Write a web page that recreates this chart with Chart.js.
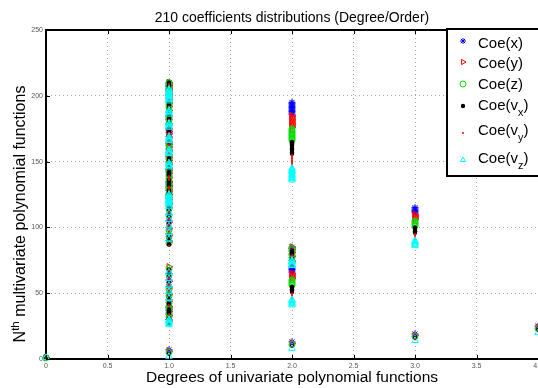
<!DOCTYPE html>
<html>
<head>
<meta charset="utf-8">
<script src="https://cdn.jsdelivr.net/npm/chart.js@4.4.1/dist/chart.umd.min.js"></script>
<style>
  html, body { margin: 0; padding: 0; background: #fff; }
  #wrap { width: 538px; height: 388px; overflow: hidden; position: relative; }
  #chart { display: block; }
</style>
</head>
<body>
<div id="wrap"><canvas id="chart" width="560" height="388"></canvas></div>
<script>
const FONT = '"Liberation Sans", Arial, Helvetica, sans-serif';

// Axis ticks
const xTicks = [0, 0.5, 1, 1.5, 2, 2.5, 3, 3.5, 4];
const yTicks = [0, 50, 100, 150, 200, 250];

// Legend labels ("_" marks a subscript letter)
const seriesNames = ['Coe(x)', 'Coe(y)', 'Coe(z)', 'Coe(v_x)', 'Coe(v_y)', 'Coe(v_z)'];

// For each coefficient: the N values found at degree 0, 1, 2, 3, 4 (array index = degree)
const coeX = [
  [1],
  [7, 30, 34, 37, 39, 40, 45, 50, 55, 60, 65, 90, 95, 100, 105, 110, 119, 122, 124, 125, 128, 130, 131, 133, 134, 135,
   139, 142, 144, 145, 149, 152, 154, 155, 159, 162, 164, 165, 169, 172, 174, 175, 179, 182, 184, 185,
   198, 200, 201, 203, 204, 205, 207, 208, 209, 210],
  [13, 66, 67, 68, 69, 70, 75, 79, 82, 84, 85, 186, 187, 188, 189, 190, 191, 192, 193, 194, 195],
  [19, 111, 112, 113, 114, 115],
  [25]
];
const coeY = [
  [1],
  [6, 29, 33, 36, 38, 40, 44, 49, 54, 59, 70, 89, 94, 99, 104, 115, 118, 121, 123, 125, 127, 129, 131, 132, 134, 135,
   138, 141, 143, 145, 148, 151, 153, 155, 158, 161, 163, 165, 168, 171, 173, 175, 189, 192, 194, 195,
   197, 199, 201, 202, 204, 205, 206, 208, 209, 210],
  [12, 61, 62, 63, 64, 65, 74, 78, 81, 83, 85, 176, 177, 178, 179, 180, 181, 182, 183, 184, 185],
  [18, 106, 107, 108, 109, 110],
  [24]
];
const coeZ = [
  [1],
  [5, 28, 32, 35, 38, 39, 43, 48, 53, 64, 69, 88, 93, 98, 109, 114, 117, 120, 123, 124, 126, 129, 130, 132, 133, 135,
   137, 140, 143, 144, 147, 150, 153, 154, 157, 160, 163, 164, 178, 181, 183, 185, 188, 191, 193, 195,
   196, 199, 200, 202, 203, 205, 206, 207, 209, 210],
  [11, 56, 57, 58, 59, 60, 73, 77, 80, 83, 84, 166, 167, 168, 169, 170, 171, 172, 173, 174, 175],
  [17, 101, 102, 103, 104, 105],
  [23]
];
const coeVx = [
  [1],
  [4, 27, 31, 35, 36, 37, 42, 47, 58, 63, 68, 87, 92, 103, 108, 113, 116, 120, 121, 122, 126, 127, 128, 132, 133, 134,
   136, 140, 141, 142, 146, 150, 151, 152, 167, 170, 173, 174, 177, 180, 183, 184, 187, 190, 193, 194,
   196, 197, 198, 202, 203, 204, 206, 207, 208, 210],
  [10, 51, 52, 53, 54, 55, 72, 76, 80, 81, 82, 156, 157, 158, 159, 160, 161, 162, 163, 164, 165],
  [16, 96, 97, 98, 99, 100],
  [22]
];
const coeVy = [
  [1],
  [3, 26, 31, 32, 33, 34, 41, 52, 57, 62, 67, 86, 97, 102, 107, 112, 116, 117, 118, 119, 126, 127, 128, 129, 130, 131,
   136, 137, 138, 139, 156, 160, 161, 162, 166, 170, 171, 172, 176, 180, 181, 182, 186, 190, 191, 192,
   196, 197, 198, 199, 200, 201, 206, 207, 208, 209],
  [9, 46, 47, 48, 49, 50, 71, 76, 77, 78, 79, 146, 147, 148, 149, 150, 151, 152, 153, 154, 155],
  [15, 91, 92, 93, 94, 95],
  [21]
];
const coeVz = [
  [1],
  [2, 26, 27, 28, 29, 30, 46, 51, 56, 61, 66, 91, 96, 101, 106, 111, 116, 117, 118, 119, 120, 121, 122, 123, 124, 125,
   146, 147, 148, 149, 156, 157, 158, 159, 166, 167, 168, 169, 176, 177, 178, 179, 186, 187, 188, 189,
   196, 197, 198, 199, 200, 201, 202, 203, 204, 205],
  [8, 41, 42, 43, 44, 45, 71, 72, 73, 74, 75, 136, 137, 138, 139, 140, 141, 142, 143, 144, 145],
  [14, 86, 87, 88, 89, 90],
  [20]
];

const toPoints = byDegree => byDegree.flatMap((ns, deg) => ns.map(n => ({ x: deg, y: n })));

// marker look per series (matlab style: *, >, o, ., ., ^)
const styles = [
  { pointStyle: 'star', radius: 3.5, rotation: 0, border: '#0000ff', fill: '#0000ff', bw: 1 },
  { pointStyle: 'triangle', radius: 3.8, rotation: 90, border: '#ff0000', fill: 'rgba(0,0,0,0)', bw: 1 },
  { pointStyle: 'circle', radius: 3, rotation: 0, border: '#00dd00', fill: 'rgba(0,0,0,0)', bw: 1 },
  { pointStyle: 'circle', radius: 2.2, rotation: 0, border: '#000000', fill: '#000000', bw: 0 },
  { pointStyle: 'circle', radius: 1, rotation: 0, border: '#ff0000', fill: '#ff0000', bw: 0 },
  { pointStyle: 'triangle', radius: 3.8, rotation: 0, border: '#00ffff', fill: 'rgba(0,0,0,0)', bw: 1 }
];
const allSeries = [coeX, coeY, coeZ, coeVx, coeVy, coeVz];

const datasets = allSeries.map((s, i) => ({
  label: seriesNames[i],
  data: toPoints(s),
  pointStyle: styles[i].pointStyle,
  pointRadius: styles[i].radius,
  pointRotation: styles[i].rotation,
  pointBorderColor: styles[i].border,
  pointBackgroundColor: styles[i].fill,
  pointBorderWidth: styles[i].bw,
  pointHoverRadius: styles[i].radius,
  showLine: false,
  clip: false,
  order: allSeries.length - i   // later series on top, like matlab
}));

// draw text pieces, some shifted (sub/superscript)
function drawRich(ctx, parts, x, y, size) {
  let cx = x;
  parts.forEach(p => {
    const sz = p.shift ? size * 0.72 : size;
    ctx.font = sz + 'px ' + FONT;
    ctx.fillText(p.t, cx, y + (p.shift || 0));
    cx += ctx.measureText(p.t).width;
  });
  return cx - x;
}
function splitSub(label) {
  const parts = [];
  for (let i = 0; i < label.length; i++) {
    if (label[i] === '_') { parts.push({ t: label[i + 1], shift: 6 }); i++; }
    else if (parts.length && !parts[parts.length - 1].shift) parts[parts.length - 1].t += label[i];
    else parts.push({ t: label[i] });
  }
  return parts;
}

const decorations = {
  id: 'decorations',
  afterDraw(chart) {
    const ctx = chart.ctx, a = chart.chartArea;
    const xs = chart.scales.x, ys = chart.scales.y;
    ctx.save();

    // top box line and inward tick marks
    ctx.strokeStyle = '#000';
    ctx.lineWidth = 2;
    ctx.beginPath(); ctx.moveTo(a.left - 1, a.top); ctx.lineTo(a.right + 2, a.top); ctx.stroke();
    ctx.lineWidth = 1;
    ctx.beginPath();
    xTicks.forEach(v => {
      const px = Math.round(xs.getPixelForValue(v)) + 0.5;
      ctx.moveTo(px, a.bottom); ctx.lineTo(px, a.bottom - 4);
      ctx.moveTo(px, a.top); ctx.lineTo(px, a.top + 4);
    });
    yTicks.forEach(v => {
      const py = Math.round(ys.getPixelForValue(v)) + 0.5;
      ctx.moveTo(a.left, py); ctx.lineTo(a.left + 4, py);
    });
    ctx.stroke();

    // title
    ctx.fillStyle = '#000';
    ctx.textBaseline = 'alphabetic';
    ctx.textAlign = 'center';
    ctx.font = '14px ' + FONT;
    ctx.fillText('210 coefficients distributions (Degree/Order)', (a.left + a.right) / 2, 21.5);

    // x title
    ctx.font = '15.5px ' + FONT;
    ctx.fillText('Degrees of univariate polynomial functions', (a.left + a.right) / 2, 382);

    // y title with superscript
    ctx.textAlign = 'left';
    const yParts = [{ t: 'N' }, { t: 'th', shift: -6 }, { t: ' multivariate polynomial functions' }];
    ctx.save();
    ctx.translate(25, 214);
    ctx.rotate(-Math.PI / 2);
    let w = 0;
    yParts.forEach(p => { ctx.font = (p.shift ? 11.5 : 16) + 'px ' + FONT; w += ctx.measureText(p.t).width; });
    drawRich(ctx, yParts, -w / 2, 0, 16);
    ctx.restore();

    // legend box
    ctx.fillStyle = '#fff';
    ctx.fillRect(447, 29, 100, 147);
    ctx.strokeStyle = '#000';
    ctx.lineWidth = 2;
    ctx.strokeRect(447, 29, 100, 147);
    const markY = [41, 62, 84, 106, 133, 160];
    const textY = [47.5, 68, 88.5, 109.5, 135, 163];
    seriesNames.forEach((name, i) => {
      const s = styles[i];
      ctx.fillStyle = s.fill;
      ctx.strokeStyle = s.border;
      ctx.lineWidth = s.bw;
      Chart.helpers.drawPoint(ctx, { pointStyle: s.pointStyle, radius: Math.min(s.radius, 3), rotation: s.rotation, borderWidth: s.bw }, 463, markY[i]);
      ctx.fillStyle = '#000';
      drawRich(ctx, splitSub(name), 478, textY[i], 15);
    });
    ctx.restore();
  }
};

new Chart(document.getElementById('chart'), {
  type: 'scatter',
  data: { datasets },
  options: {
    responsive: false,
    animation: false,
    devicePixelRatio: 1,
    layout: { padding: { left: 0, right: 22, top: 30, bottom: 0 } },
    plugins: { legend: { display: false }, tooltip: { enabled: false }, title: { display: false } },
    scales: {
      x: {
        type: 'linear', min: 0, max: 4,
        afterBuildTicks: s => { s.ticks = xTicks.map(v => ({ value: v })); },
        afterFit: s => { s.height = 29; },
        ticks: { font: { size: 7, family: FONT }, color: '#555', padding: 3, maxRotation: 0, autoSkip: false },
        grid: { color: '#a8a8a8', lineWidth: 1, drawTicks: false },
        border: { display: true, color: '#000', width: 2, dash: [1, 3] }
      },
      y: {
        type: 'linear', min: 0, max: 250,
        afterBuildTicks: s => { s.ticks = yTicks.map(v => ({ value: v })); },
        afterFit: s => { s.width = 46; },
        ticks: { font: { size: 7, family: FONT }, color: '#555', padding: 3 },
        grid: { color: '#a8a8a8', lineWidth: 1, drawTicks: false },
        border: { display: true, color: '#000', width: 2, dash: [1, 3] }
      }
    }
  },
  plugins: [decorations]
});
</script>
</body>
</html>
